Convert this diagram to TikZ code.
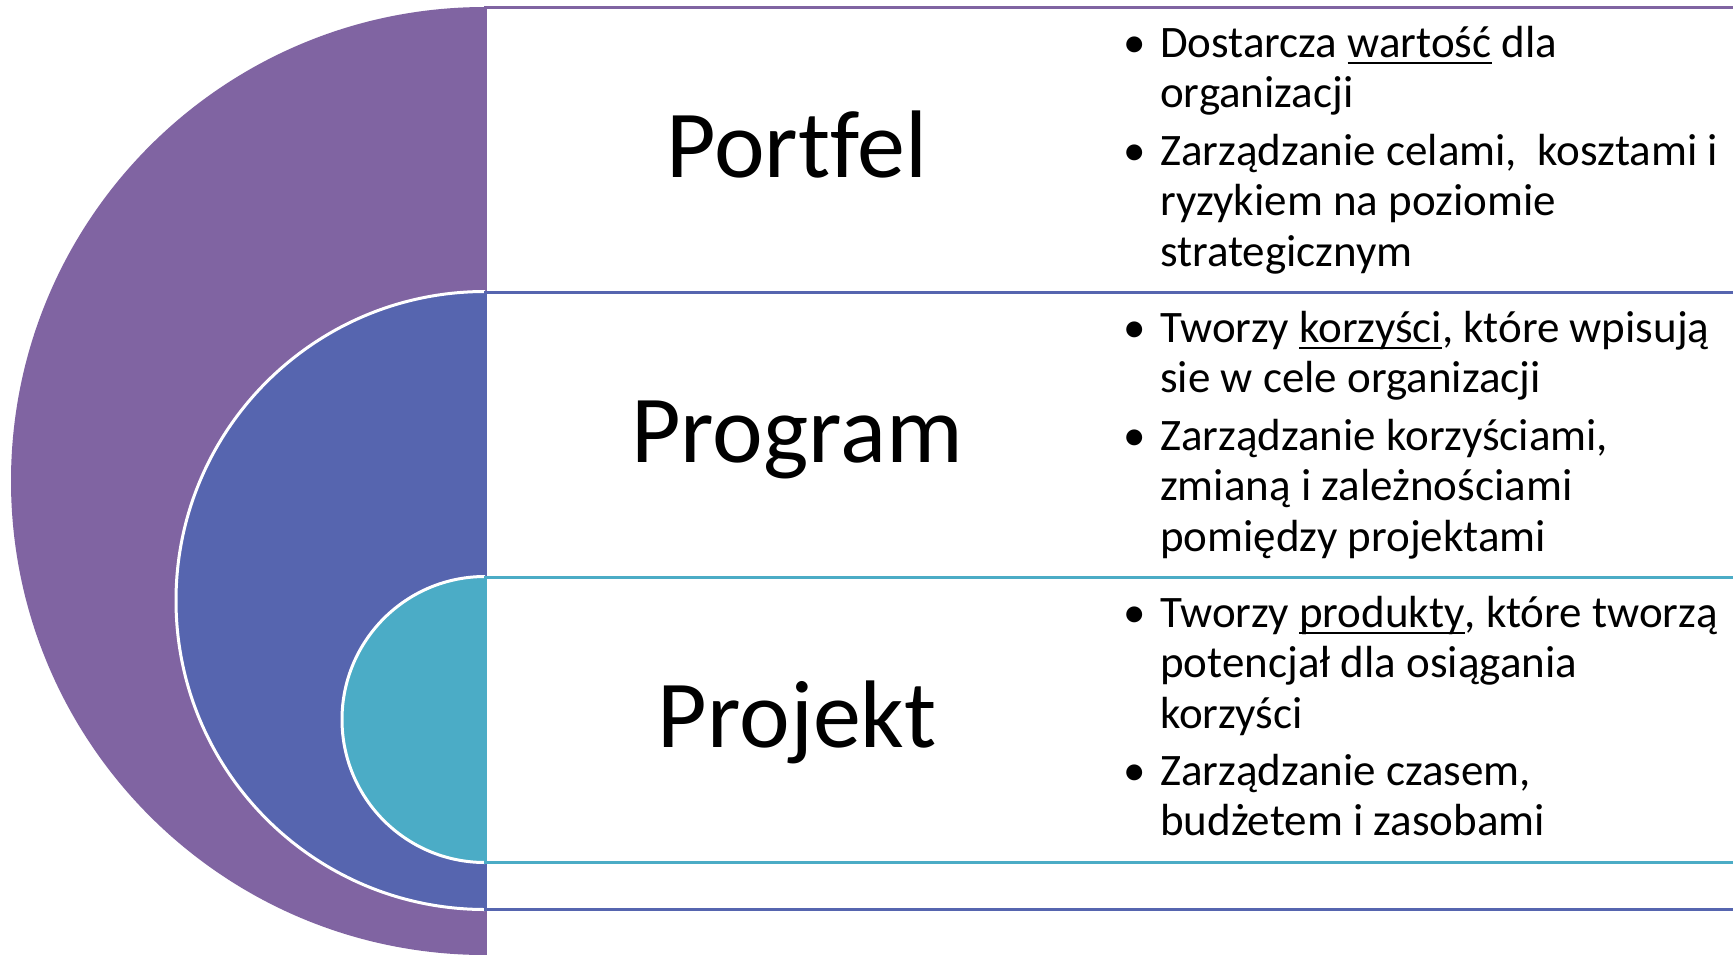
\documentclass[tikz,border=0pt]{standalone}
\usepackage{fontspec}
\setmainfont{Carlito}[Ligatures=CommonOff]
\definecolor{portfel}{RGB}{128,100,162}
\definecolor{program}{RGB}{86,101,175}
\definecolor{projekt}{RGB}{75,172,198}
% underline that sits just under the baseline and crosses descenders
\newcommand\undl[1]{\setbox0=\hbox{#1}\rlap{\rule[-0.16em]{\wd0}{0.05em}}\box0\relax}
% a stack of lines whose baseline is the first line's baseline
\newcommand\stack[1]{\vtop{\baselineskip=50.5pt\relax #1}}
\frenchspacing
\begin{document}
\begin{tikzpicture}[x=1pt,y=-1pt,
  title/.style={anchor=base, inner sep=0pt, font=\fontsize{96}{115}\selectfont},
  body/.style={anchor=base west, inner sep=0pt, font=\fontsize{45}{50.5}\selectfont},
  dot/.style={anchor=base, inner sep=0pt, font=\fontsize{45}{50.5}\selectfont},
  halfdisc/.style={draw=white, line width=3pt},
  band/.style={line width=3pt, fill=white}]
\clip (0,0) rectangle (1733,954);
\fill[white] (0,0) rectangle (1733,954);

% outer level
\begin{scope}
  \clip (0,0) rectangle (485,954);
  \fill[portfel] (485,481) circle[radius=474];
\end{scope}
\draw[band, draw=portfel] (485,7) rectangle (1760,990);

% middle level
\begin{scope}
  \clip (0,0) rectangle (485,954);
  \draw[halfdisc, fill=program] (485,600.5) circle[radius=309];
\end{scope}
\draw[band, draw=program] (485,292) rectangle (1760,909);

% inner level
\begin{scope}
  \clip (0,0) rectangle (485,954);
  \draw[halfdisc, fill=projekt] (485,719.5) circle[radius=143];
\end{scope}
\draw[band, draw=projekt] (485,577) rectangle (1760,862);

% titles
\node[title] (tportfel) at (797,177) {Portfel};
\node[title] (tprogram) at (797,462) {Program};
\node[title] (tprojekt) at (797,747) {Projekt};

% descriptions
\node[dot] (d1a) at (1135,57) {•};
\node[body] (b1a) at (1160,57) {\stack{\hbox{Dostarcza \undl{wartość} dla}\hbox{organizacji}}};
\node[dot] (d1b) at (1135,165) {•};
\node[body] (b1b) at (1160,165) {\stack{\hbox{Zarządzanie celami,\ \ kosztami i}\hbox{ryzykiem na poziomie}\hbox{strategicznym}}};

\node[dot] (d2a) at (1135,342) {•};
\node[body] (b2a) at (1160,342) {\stack{\hbox{Tworzy \undl{korzyści}, które wpisują}\hbox{sie w cele organizacji}}};
\node[dot] (d2b) at (1135,450) {•};
\node[body] (b2b) at (1160,450) {\stack{\hbox{Zarządzanie korzyściami,}\hbox{zmianą i zależnościami}\hbox{pomiędzy projektami}}};

\node[dot] (d3a) at (1135,627) {•};
\node[body] (b3a) at (1160,627) {\stack{\hbox{Tworzy \undl{produkty}, które tworzą}\hbox{potencjał dla osiągania}\hbox{korzyści}}};
\node[dot] (d3b) at (1135,785) {•};
\node[body] (b3b) at (1160,785) {\stack{\hbox{Zarządzanie czasem,}\hbox{budżetem i zasobami}}};
\end{tikzpicture}
\end{document}
